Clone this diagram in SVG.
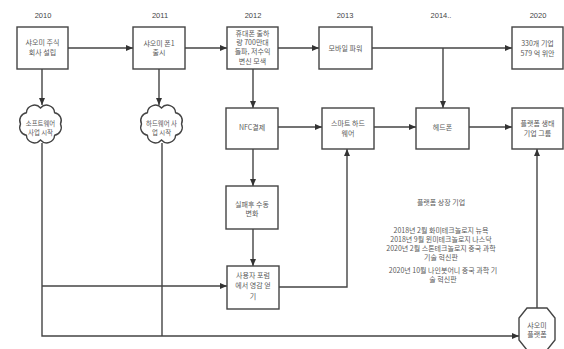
<svg xmlns="http://www.w3.org/2000/svg" width="564" height="349" viewBox="0 0 564 349">
<style>
.box{fill:#fff;stroke:#444;stroke-width:1.4}
.t{font-family:"Noto Sans CJK KR","Noto Sans",sans-serif;font-size:7px;fill:#5a5a5a;text-anchor:middle}
.s{font-size:6.4px}
.y{font-family:"Liberation Sans","Noto Sans",sans-serif;font-size:7.5px;fill:#444;text-anchor:middle}
.c{fill:none;stroke:#444;stroke-width:1.4}
.cl{fill:#fff;stroke:#444;stroke-width:1.4}
</style>
<defs>
<marker id="a" markerWidth="7" markerHeight="6" refX="7" refY="3" orient="auto" markerUnits="userSpaceOnUse">
<path d="M0,0 L7,3 L0,6 z" fill="#333"/>
</marker>
<path id="cloud" d="M20,0 A8,8 0 0 1 14.1,11.3 A8,8 0 0 1 0,16 A8,8 0 0 1 -14.1,11.3 A8,8 0 0 1 -20,0 A8,8 0 0 1 -14.1,-11.3 A8,8 0 0 1 0,-16 A8,8 0 0 1 14.1,-11.3 A8,8 0 0 1 20,0 Z"/>
</defs>
<rect width="564" height="349" fill="#fff"/>
<g id="years">
<text class="y" x="43" y="17.5">2010</text>
<text class="y" x="160" y="17.5">2011</text>
<text class="y" x="253" y="17.5">2012</text>
<text class="y" x="345" y="17.5">2013</text>
<text class="y" x="441" y="17.5">2014..</text>
<text class="y" x="538" y="17.5">2020</text>
</g>
<g id="connectors">
<path class="c" d="M68,48 H133" marker-end="url(#a)"/>
<path class="c" d="M185,48 H227" marker-end="url(#a)"/>
<path class="c" d="M278,48 H319" marker-end="url(#a)"/>
<path class="c" d="M372,48 H512" marker-end="url(#a)"/>
<path class="c" d="M443,48 V108" marker-end="url(#a)"/>
<path class="c" d="M42,69 V105" marker-end="url(#a)"/>
<path class="c" d="M159,69 V105" marker-end="url(#a)"/>
<path class="c" d="M253,69 V108" marker-end="url(#a)"/>
<path class="c" d="M278,127 H322" marker-end="url(#a)"/>
<path class="c" d="M374,127 H416" marker-end="url(#a)"/>
<path class="c" d="M469,127 H512" marker-end="url(#a)"/>
<path class="c" d="M253,149 V186" marker-end="url(#a)"/>
<path class="c" d="M253,229 V266" marker-end="url(#a)"/>
<path class="c" d="M279,287 H347 V149" marker-end="url(#a)"/>
<path class="c" d="M42,143 V336 H519" marker-end="url(#a)"/>
<path class="c" d="M42,286 H227" marker-end="url(#a)"/>
<path class="c" d="M162,143 V336"/>
<path class="c" d="M537,308 V149" marker-end="url(#a)"/>
</g>
<g id="n2010">
<rect class="box" x="17" y="27" width="51" height="42"/>
<text class="t" x="42.5" y="45">샤오미 주식</text>
<text class="t" x="42.5" y="54.5">회사 설립</text>
</g>
<g id="n2011">
<rect class="box" x="133" y="27" width="52" height="42"/>
<text class="t" x="159" y="45.5">샤오미 폰1</text>
<text class="t" x="159" y="54.5">출시</text>
</g>
<g id="n2012">
<rect class="box" x="227" y="27" width="51" height="42"/>
<text class="t" x="252.5" y="35.5">휴대폰 출하</text>
<text class="t" x="252.5" y="44.5">량 700만대</text>
<text class="t" x="252.5" y="54">돌파, 저수익</text>
<text class="t" x="252.5" y="63.5">변신 모색</text>
</g>
<g id="n2013">
<rect class="box" x="319" y="27" width="53" height="42"/>
<text class="t" x="345.5" y="50.5">모바일 파워</text>
</g>
<g id="n2020">
<rect class="box" x="512" y="27" width="51" height="42"/>
<text class="t" x="537.5" y="45.5">330개 기업</text>
<text class="t" x="537.5" y="55.5">579 억 위안</text>
</g>
<g id="cloudSoftware">
<use href="#cloud" x="40.5" y="124" class="cl"/>
<text class="t s" x="40.5" y="125.5">소프트웨어</text>
<text class="t s" x="40.5" y="135">사업 시작</text>
</g>
<g id="cloudHardware">
<use href="#cloud" x="161.5" y="124" class="cl"/>
<text class="t s" x="161.5" y="125.5">하드웨어 사</text>
<text class="t s" x="161.5" y="135">업 시작</text>
</g>
<g id="nNFC">
<rect class="box" x="226" y="108" width="52" height="41"/>
<text class="t" x="252" y="129.5">NFC결제</text>
</g>
<g id="nSmartHW">
<rect class="box" x="322" y="108" width="52" height="41"/>
<text class="t" x="348" y="125.5">스마트 하드</text>
<text class="t" x="348" y="135.5">웨어</text>
</g>
<g id="nHeadphone">
<rect class="box" x="416" y="108" width="53" height="41"/>
<text class="t" x="442.5" y="129.5">헤드폰</text>
</g>
<g id="nEco">
<rect class="box" x="512" y="108" width="51" height="41"/>
<text class="t" x="537.5" y="125.5">플랫폼 생태</text>
<text class="t" x="537.5" y="135.5">기업 그룹</text>
</g>
<g id="nFailure">
<rect class="box" x="226" y="186" width="52" height="43"/>
<text class="t" x="252" y="206.5">실패후 수동</text>
<text class="t" x="252" y="215.5">변화</text>
</g>
<g id="nForum">
<rect class="box" x="227" y="266" width="52" height="43"/>
<text class="t" x="253" y="278">사용자 포럼</text>
<text class="t" x="253" y="288">에서 영감 얻</text>
<text class="t" x="253" y="298.5">기</text>
</g>
<g id="nPlatform">
<polygon class="box" points="527,308 547,308 555,318 555,340 547,350 527,350 519,340 519,318"/>
<text class="t" x="537" y="327.5">샤오미</text>
<text class="t" x="537" y="336.5">플랫폼</text>
</g>
<g id="listing">
<text class="t" x="441" y="204.5">플랫폼 상장 기업</text>
<text class="t" x="441" y="233">2018년 2월 화미테크놀로지 뉴욕</text>
<text class="t" x="441" y="242">2018년 9월 윈미테크놀로지 나스닥</text>
<text class="t" x="441" y="250.5">2020년 2월 스톤테크놀로지 중국 과학</text>
<text class="t" x="441" y="259.5">기술 혁신판</text>
<text class="t" x="443" y="272.5">2020년 10월 나인봇어니 중국 과학 기</text>
<text class="t" x="443" y="281.5">술 혁신판</text>
</g>
</svg>
